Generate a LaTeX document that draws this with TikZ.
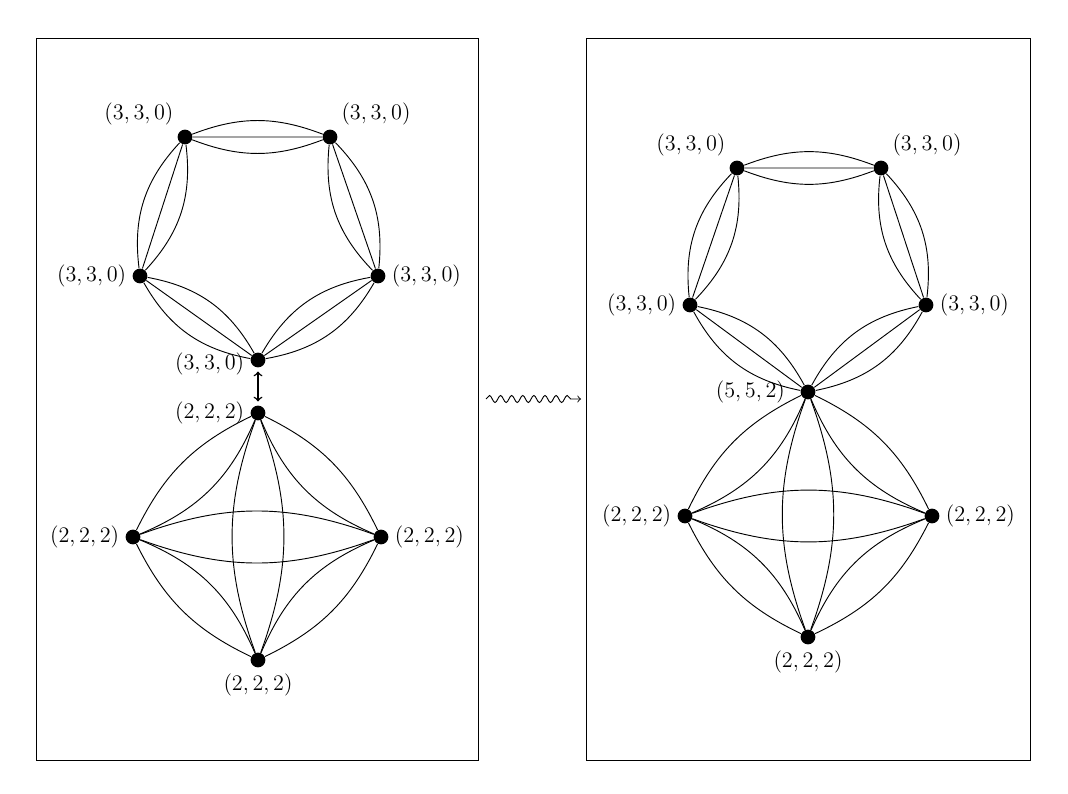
\documentclass[tikz,border=0pt]{standalone}
\usepackage{amsmath}
\usepackage{tikz}
\usetikzlibrary{
  decorations.pathmorphing  % 波浪箭头
}

\begin{document}
\begin{tikzpicture}[x=0.019cm, y=-0.019cm, line width=0.5pt, % 按像素坐标作图，y 轴朝下
  dot/.style={circle, fill=black, inner sep=0pt, minimum size=0.28cm}, % 实心顶点
  every label/.style={inner sep=3pt, font=\large}]
  \useasboundingbox (0,0) rectangle (1068,794); % 固定画布大小

  % 两个外框
  \draw (36,38) rectangle (478,760); % 左框
  \draw (586,38) rectangle (1030,760); % 右框

  % 左图：五边形
  \node[dot, label={above left:$(3,3,0)$}] (A1) at (185,137) {}; % 左上顶点
  \node[dot, label={above right:$(3,3,0)$}] (B1) at (330,137) {}; % 右上顶点
  \node[dot, label={right:$(3,3,0)$}] (C1) at (378,276) {}; % 右侧顶点
  \node[dot, label={[yshift=-2pt]left:$(3,3,0)$}] (D1) at (258,360) {}; % 底部顶点
  \node[dot, label={left:$(3,3,0)$}] (E1) at (140,276) {}; % 左侧顶点

  \draw (A1) to[bend left=21] (B1) (A1) -- (B1) (A1) to[bend right=21] (B1); % 每条边三重
  \draw (B1) to[bend left=25] (C1) (B1) -- (C1) (B1) to[bend right=25] (C1);
  \draw (C1) to[bend left=25] (D1) (C1) -- (D1) (C1) to[bend right=25] (D1);
  \draw (D1) to[bend left=25] (E1) (D1) -- (E1) (D1) to[bend right=25] (E1);
  \draw (E1) to[bend left=25] (A1) (E1) -- (A1) (E1) to[bend right=25] (A1);

  % 左图：四边形
  \node[dot, label={left:$(2,2,2)$}] (S1) at (258,413) {}; % 上顶点
  \node[dot, label={right:$(2,2,2)$}] (S2) at (381,537) {}; % 右顶点
  \node[dot, label={below:$(2,2,2)$}] (S3) at (258,660) {}; % 下顶点
  \node[dot, label={left:$(2,2,2)$}] (S4) at (133,537) {}; % 左顶点

  \draw (S1) to[bend left=19] (S2) (S1) to[bend right=22] (S2); % 外弧与内弧
  \draw (S2) to[bend left=19] (S3) (S2) to[bend right=22] (S3);
  \draw (S3) to[bend left=19] (S4) (S3) to[bend right=22] (S4);
  \draw (S4) to[bend left=19] (S1) (S4) to[bend right=22] (S1);
  \draw (S1) to[bend left=20] (S3) (S1) to[bend right=20] (S3); % 对角线
  \draw (S2) to[bend left=20] (S4) (S2) to[bend right=20] (S4);

  % 两图相接处
  \draw[<->, thick, shorten <=2pt, shorten >=2pt] (D1) -- (S1);

  % 中间的波浪箭头
  \coordinate (w1) at (486,399);
  \coordinate (w2) at (581,399);
  \draw[->, decorate, decoration={snake, amplitude=1.9pt, segment length=6pt, post length=4pt}] (w1) -- (w2);

  % 右图：五边形
  \node[dot, label={above left:$(3,3,0)$}] (A2) at (737,168) {};
  \node[dot, label={above right:$(3,3,0)$}] (B2) at (881,168) {};
  \node[dot, label={right:$(3,3,0)$}] (C2) at (926,305) {};
  \node[dot, label={[label distance=5pt]left:$(5,5,2)$}] (M) at (808,392) {}; % 合并后的顶点
  \node[dot, label={left:$(3,3,0)$}] (E2) at (690,305) {};

  \draw (A2) to[bend left=21] (B2) (A2) -- (B2) (A2) to[bend right=21] (B2);
  \draw (B2) to[bend left=25] (C2) (B2) -- (C2) (B2) to[bend right=25] (C2);
  \draw (C2) to[bend left=25] (M) (C2) -- (M) (C2) to[bend right=25] (M);
  \draw (M) to[bend left=25] (E2) (M) -- (E2) (M) to[bend right=25] (E2);
  \draw (E2) to[bend left=25] (A2) (E2) -- (A2) (E2) to[bend right=25] (A2);

  % 右图：四边形（上顶点即 M）
  \node[dot, label={right:$(2,2,2)$}] (T2) at (932,516) {};
  \node[dot, label={below:$(2,2,2)$}] (T3) at (808,637) {};
  \node[dot, label={left:$(2,2,2)$}] (T4) at (685,516) {};

  \draw (M) to[bend left=19] (T2) (M) to[bend right=22] (T2);
  \draw (T2) to[bend left=19] (T3) (T2) to[bend right=22] (T3);
  \draw (T3) to[bend left=19] (T4) (T3) to[bend right=22] (T4);
  \draw (T4) to[bend left=19] (M) (T4) to[bend right=22] (M);
  \draw (M) to[bend left=20] (T3) (M) to[bend right=20] (T3);
  \draw (T2) to[bend left=20] (T4) (T2) to[bend right=20] (T4);
\end{tikzpicture}
\end{document}
